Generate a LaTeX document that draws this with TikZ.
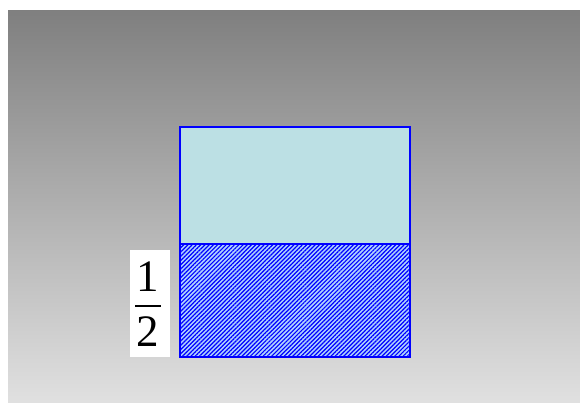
\documentclass[tikz,border=0pt]{standalone}
\usepackage{fontspec}
\setmainfont{Liberation Serif}
\newfontfamily\timesfont{Liberation Serif}
\usetikzlibrary{patterns.meta}
\definecolor{topfill}{RGB}{188,224,228}
\definecolor{hatchbg}{RGB}{175,210,255}
\definecolor{pureblue}{RGB}{0,0,255}
\tikzset{
  part/.style={draw=pureblue, line width=2pt, inner sep=0pt, outer sep=0pt, anchor=north west, minimum width=230pt},
  digit/.style={font=\timesfont\fontsize{45}{47}\selectfont, inner sep=0pt}
}
\begin{document}
\begin{tikzpicture}[x=1pt,y=1pt]
\useasboundingbox (0,0) rectangle (580,403);
\shade[top color=black!50, bottom color=black!12] (8,0) rectangle (580,392);
\node[part, minimum height=117pt, fill=topfill] (upper) at (180,276) {};
\node[part, minimum height=113pt, fill=hatchbg] (lowerbg) at (180,159) {};
\fill[pattern={Lines[angle=45, distance=3pt, line width=1.2pt]}, pattern color=pureblue] (lowerbg.north west) rectangle (lowerbg.south east);
\node[part, minimum height=113pt] (lower) at (180,159) {};
\node[fill=white, inner sep=0pt, minimum width=40pt, minimum height=107pt, anchor=south west] (fracbox) at (130,46) {};
\node[digit] (num) at (148,126) {1};
\node[digit] (den) at (148,71) {2};
\coordinate (barl) at (135,97);
\coordinate (barr) at (161,97);
\draw[line width=1.8pt] (barl) -- (barr);
\end{tikzpicture}
\end{document}
